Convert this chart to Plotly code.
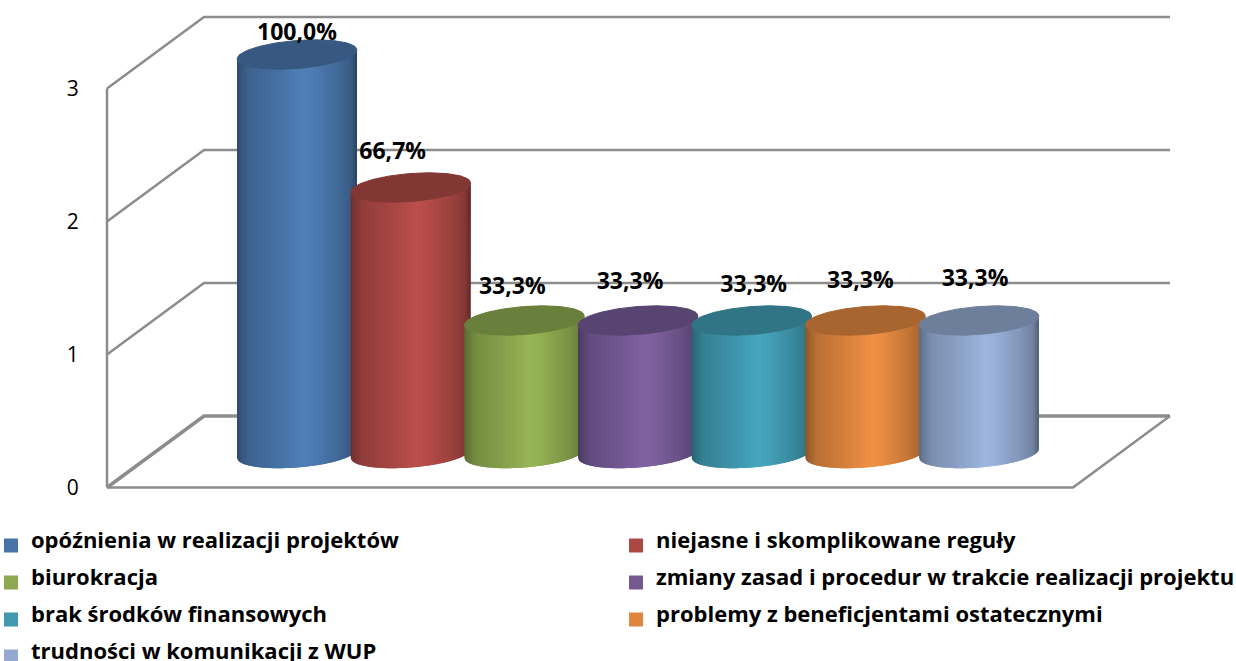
import numpy as np
import plotly.graph_objects as go

categories = ["opóźnienia w realizacji projektów", "niejasne i skomplikowane reguły", "biurokracja",
              "zmiany zasad i procedur w trakcie realizacji projektu", "brak środków finansowych",
              "problemy z beneficjentami ostatecznymi", "trudności w komunikacji z WUP"]
values = [3, 2, 1, 1, 1, 1, 1]
percent_labels = ["100,0%", "66,7%", "33,3%", "33,3%", "33,3%", "33,3%", "33,3%"]
y_ticks = [0, 1, 2, 3]
peak_colors = ["#4f7fb8", "#bb4f4c", "#97b656", "#7f62a2", "#46a6bf", "#f09144", "#9eb6e0"]
legend_colors = ["#4674a8", "#ab4846", "#8ca850", "#75598f", "#4299ae", "#e0853e", "#94a9d0"]
label_dx_px = [0, -18, -12, -8, 2, -5, -4]
label_dy_px = [20.5, 34.5, 32.5, 37.5, 34.5, 38.5, 40.5]

W, H = 1236, 661
PX_CAT = 113.67     # pixels per category
PX_VAL = 133.0      # pixels per value unit
X0_PX, Y0_PX = 297.0, 487.5
DEPTH_X, DEPTH_Y = 97 / PX_CAT, 71.5 / PX_VAL
BASE = 34 / PX_VAL  # cylinders stand part-way into the floor
R = 60 / PX_CAT
B = 14 / PX_VAL
TILT = 4.5 / PX_VAL
N_CATS = len(categories)
X_FRONT_L, X_FRONT_R = (107 - X0_PX) / PX_CAT, (1073 - X0_PX) / PX_CAT
GRID = "#8c8c8c"


def rgb(h):
    return np.array([int(h[i:i + 2], 16) for i in (1, 3, 5)], float)


def shade(h, f):
    return "rgb(%d,%d,%d)" % tuple(np.clip(rgb(h) * f, 0, 255))


SH_T = [0, .03, .10, .30, .55, .62, .85, .95, 1]
SH_F = [.58, .66, .78, .87, 1, .98, .82, .72, .52]

fig = go.Figure()

# real bars (covered by cylinder shading); these carry the legend
for i, (c, v) in enumerate(zip(categories, values)):
    fig.add_trace(go.Bar(x=[i], y=[v], base=BASE, width=0.95,
                         name='<span style="font-size:22px">%s</span>' % c, marker_color=legend_colors[i],
                         marker_line_width=2, marker_line_color=legend_colors[i],
                         legend="legend" if i % 2 == 0 else "legend2", legendgroup=c, hoverinfo="skip"))


def line(xs, ys, w=2.5):
    fig.add_trace(go.Scatter(x=xs, y=ys, mode="lines", line=dict(color=GRID, width=w),
                             showlegend=False, hoverinfo="skip"))


# walls and floor
for t in y_ticks:
    lw = 3.5 if t == 0 else 2.5
    line([X_FRONT_L, X_FRONT_L + DEPTH_X, X_FRONT_R + DEPTH_X], [t, t + DEPTH_Y, t + DEPTH_Y], lw)
line([X_FRONT_L, X_FRONT_L], [0, y_ticks[-1]])
line([X_FRONT_L, X_FRONT_R, X_FRONT_R + DEPTH_X], [0, 0, DEPTH_Y])

# cylinders: each shading strip overlaps the next so no seam shows
N_STRIPS = 60
edges = np.linspace(-1, 1, N_STRIPS + 1)
for i, v in enumerate(values):
    top = BASE + v
    for k in range(N_STRIPS):
        u = np.linspace(edges[k], edges[min(k + 2, N_STRIPS)], 5)
        arc = -B * np.sqrt(np.clip(1 - u ** 2, 0, 1)) + TILT * (u)
        xs = np.r_[i + R * u, i + R * u[::-1]]
        ys = np.r_[top + arc, (BASE + arc)[::-1]]
        col = shade(peak_colors[i], np.interp((k + .5) / N_STRIPS, SH_T, SH_F))
        fig.add_trace(go.Scatter(x=xs, y=ys, mode="lines", fill="toself", fillcolor=col,
                                 line=dict(color=col, width=0), showlegend=False, hoverinfo="skip"))
    u = np.linspace(-1, 1, 80)
    s = B * np.sqrt(1 - u ** 2)
    xs = np.r_[i + R * u, i + R * u[::-1]]
    ys = np.r_[top + s + TILT * u, (top - s + TILT * u)[::-1]]
    col = shade(peak_colors[i], .70)
    fig.add_trace(go.Scatter(x=xs, y=ys, mode="lines", fill="toself", fillcolor=col,
                             line=dict(color=col, width=1), showlegend=False, hoverinfo="skip"))

# value labels
fig.add_trace(go.Scatter(
    x=[i + dx / PX_CAT for i, dx in enumerate(label_dx_px)],
    y=[BASE + v + dy / PX_VAL for v, dy in zip(values, label_dy_px)],
    mode="text", text=percent_labels, textposition="middle center",
    textfont=dict(family="Open Sans", size=23, color="#000000", weight="bold"),
    showlegend=False, hoverinfo="skip"))

legend_common = dict(orientation="v", xanchor="left", yanchor="top", yref="paper", xref="paper",
                     bgcolor="rgba(0,0,0,0)", borderwidth=0, tracegroupgap=18, itemwidth=30,
                     itemclick=False, itemdoubleclick=False, indentation=-9,
                     font=dict(family="Open Sans", size=6, color="#000000", weight="bold"))

fig.update_layout(
    width=W, height=H, autosize=False, margin=dict(l=0, r=0, t=0, b=0, autoexpand=False),
    paper_bgcolor="white", plot_bgcolor="white", barmode="overlay",
    xaxis=dict(range=[-X0_PX / PX_CAT, (W - X0_PX) / PX_CAT], visible=False, fixedrange=True),
    yaxis=dict(range=[(Y0_PX - H) / PX_VAL, Y0_PX / PX_VAL], tickmode="array", tickvals=y_ticks,
               ticktext=[str(t) for t in y_ticks], showgrid=False, zeroline=False, showline=False,
               anchor="free", position=107 / W, ticks="outside", ticklen=24, tickcolor="rgba(0,0,0,0)",
               tickfont=dict(family="Open Sans", size=21, color="#000000"), fixedrange=True),
    legend=dict(x=0, y=1 - 531 / H, **legend_common),
    legend2=dict(x=625 / W, y=1 - 531 / H, **legend_common),
)
fig.write_html("out.html", config={"displayModeBar": False},
               post_script="document.body.style.margin='0';document.body.style.overflow='hidden';")
